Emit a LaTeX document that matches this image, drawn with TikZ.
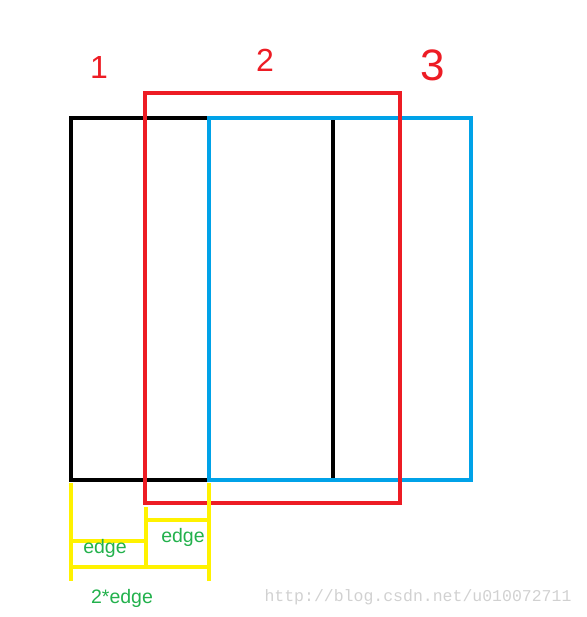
\documentclass[tikz,border=0pt]{standalone}
\usepackage{fontspec}
\setmainfont{Liberation Sans}
\newfontfamily\markfont{Liberation Mono}
\definecolor{paintred}{RGB}{237,28,36}
\definecolor{paintblue}{RGB}{0,162,232}
\definecolor{paintyellow}{RGB}{255,242,0}
\definecolor{paintgreen}{RGB}{34,177,76}
\begin{document}
\begin{tikzpicture}[x=1pt, y=-1pt,
    frame/.style={line width=4pt},
    measure/.style={line width=4pt, paintyellow},
    number/.style={text=paintred, font=\fontsize{32}{32}\selectfont},
    sizetext/.style={text=paintgreen, font=\fontsize{19.5}{19.5}\selectfont}]
    \useasboundingbox (0,0) rectangle (586,617);

    % Windows
    \draw[frame, black] (71,118) rectangle (333,480);
    \draw[frame, paintblue] (209,118) rectangle (471,480);
    \draw[frame, paintred] (145,93) rectangle (400,503);

    % Labels
    \node[number] (one) at (99,67) {1};
    \node[number] (two) at (265,60) {2};
    \node[number, font=\fontsize{44}{44}\selectfont] (three) at (433,65) {3};

    % Edge marks
    \draw[measure] (71,483) -- (71,581);
    \draw[measure] (209,483) -- (209,581);
    \draw[measure] (146,507) -- (146,569);
    \draw[measure] (71,541) -- (146,541);
    \draw[measure] (146,520) -- (209,520);
    \draw[measure] (71,567) -- (209,567);
    \node[sizetext] (edgea) at (105,548) {edge};
    \node[sizetext] (edgeb) at (183,537) {edge};
    \node[sizetext] (edgec) at (122,598) {2*edge};

    % Watermark
    \node[text=black!18, font=\markfont\fontsize{16.5}{16.5}\selectfont] (mark) at (418,597) {http://blog.csdn.net/u010072711};
\end{tikzpicture}
\end{document}
